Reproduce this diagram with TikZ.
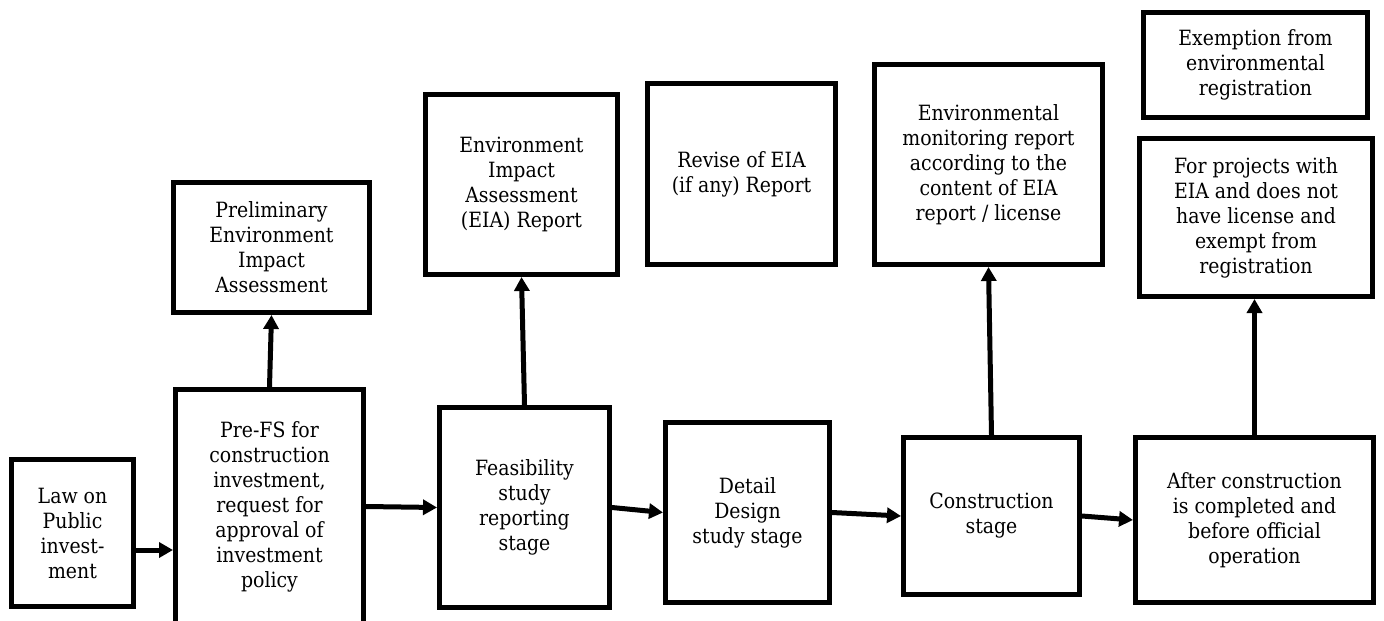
\documentclass[tikz,border=0pt]{standalone}
\usepackage{fontspec}
\setmainfont[FakeStretch=0.9]{DejaVu Serif}
\usetikzlibrary{arrows.meta}
\begin{document}
\begin{tikzpicture}[x=1pt,y=-1pt,
  box/.style={draw, line width=5pt, align=center, inner sep=0pt,
    font=\fontsize{21}{25}\selectfont},
  arr/.style={line width=5pt, -{Triangle[length=14pt,width=15pt]}},
  link/.style={line width=5pt}]
\useasboundingbox (0,0) rectangle (1384,621);

% main sequence of stages
\node[box, minimum width=122pt, minimum height=147pt] (law) at (72.5,533)
  {Law on\\Public\\invest-\\ment};
\node[box, minimum width=188pt, minimum height=234pt] (prefs) at (269.5,506.5)
  {Pre-FS for\\construction\\investment,\\request for\\approval of\\investment\\policy};
\node[box, minimum width=170pt, minimum height=200pt] (feas) at (524.5,507.5)
  {Feasibility\\study\\reporting\\stage};
\node[box, minimum width=164pt, minimum height=180pt] (detail) at (747.5,512.5)
  {Detail\\Design\\study stage};
\node[box, minimum width=176pt, minimum height=157pt] (constr) at (991.5,516)
  {Construction\\stage};
\node[box, minimum width=238pt, minimum height=165pt] (after) at (1254.5,520)
  {After construction\\is completed and\\before official\\operation};

% environmental documents
\node[box, minimum width=196pt, minimum height=130pt] (prelim) at (271.5,247.5)
  {Preliminary\\Environment\\Impact\\Assessment};
\node[box, minimum width=192pt, minimum height=180pt] (eia) at (521.5,184.5)
  {Environment\\Impact\\Assessment\\(EIA) Report};
\node[box, minimum width=188pt, minimum height=181pt] (revise) at (741.5,174)
  {Revise of EIA\\(if any) Report};
\node[box, minimum width=228pt, minimum height=200pt] (monit) at (988.5,164.5)
  {Environmental\\monitoring report\\according to the\\content of EIA\\report / license};
\node[box, minimum width=224pt, minimum height=105pt] (exempt) at (1255.5,65)
  {Exemption from\\environmental\\registration};
\node[box, minimum width=233pt, minimum height=158pt] (projects) at (1256,217.5)
  {For projects with\\EIA and does not\\have license and\\exempt from\\registration};

% connectors between stages
\coordinate (lawout) at ([yshift=-17pt]law.east);
\draw[arr] (lawout) -- (lawout -| prefs.west);
\draw[arr] (prefs.east) -- (feas.west);
\draw[arr] (feas.east) -- (detail.west);
\draw[arr] (detail.east) -- (constr.west);
\draw[arr] (constr.east) -- (after.west);

% connectors to the documents
\draw[arr] (prefs.north) -- (prelim.south);
\draw[arr] (feas.north) -- (eia.south);
\draw[arr] (constr.north) -- (monit.south);
\draw[arr] (after.north) -- (after.north |- projects.south);
\end{tikzpicture}
\end{document}
